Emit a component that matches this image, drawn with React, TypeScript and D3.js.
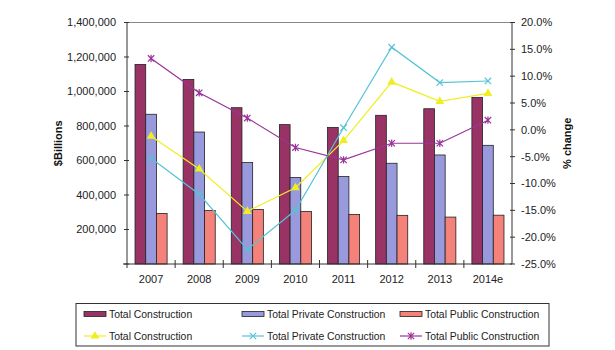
import * as d3 from "d3";

const years = ["2007", "2008", "2009", "2010", "2011", "2012", "2013", "2014e"];

// bar values ($Billions)
const totalValues = [1157000, 1070000, 906000, 808000, 792000, 862000, 900000, 966000];
const privateValues = [868000, 765000, 588000, 501000, 507000, 584000, 632000, 688000];
const publicValues = [293000, 310000, 316000, 305000, 287000, 282000, 272000, 283000];

// % change lines
const totalPct = [-1.2, -7.3, -15.2, -10.8, -2.0, 8.9, 5.3, 6.8];
const privatePct = [-5.3, -12.0, -22.3, -15.0, 0.4, 15.4, 8.8, 9.1];
const publicPct = [13.3, 6.9, 2.2, -3.3, -5.6, -2.5, -2.5, 1.8];

const leftTicks = [0, 200000, 400000, 600000, 800000, 1000000, 1200000, 1400000];
const rightTicks = [20, 15, 10, 5, 0, -5, -10, -15, -20, -25];

const W = 615;
const H = 350;
const left = 127;
const right = 512;
const top = 22.5;
const bottom = 264;
const font = "'Liberation Sans', Arial, sans-serif";

const barSeries = [
  { name: "Total Construction", values: totalValues, color: "#993366" },
  { name: "Total Private Construction", values: privateValues, color: "#9999dd" },
  { name: "Total Public Construction", values: publicValues, color: "#f4827a" },
];

const lineSeries = [
  { name: "Total Construction", values: totalPct, color: "#f0ee20", marker: "tri" },
  { name: "Total Private Construction", values: privatePct, color: "#55c3d6", marker: "x" },
  { name: "Total Public Construction", values: publicPct, color: "#993399", marker: "star" },
];

function Marker({ type, x, y, color }: { type: string; x: number; y: number; color: string }) {
  if (type === "tri") {
    const sym = d3.symbol(d3.symbolTriangle, 34)();
    return <path d={sym || ""} transform={`translate(${x},${y})`} fill={color} />;
  }
  const s = 3.2;
  const cross = `M${x - s},${y - s}L${x + s},${y + s}M${x - s},${y + s}L${x + s},${y - s}`;
  if (type === "x") return <path d={cross} stroke={color} strokeWidth={1.2} fill="none" />;
  return (
    <path d={cross + `M${x},${y - s - 0.5}L${x},${y + s + 0.5}`} stroke={color} strokeWidth={1.2} fill="none" />
  );
}

export default function App() {
  const x = d3.scaleBand<string>().domain(years).range([left, right]);
  const bw = x.bandwidth();
  const barW = bw / 4.5;
  const yL = d3.scaleLinear().domain([0, 1400000]).range([bottom, top]);
  const yR = d3.scaleLinear().domain([-25, 20]).range([bottom, top]);
  const fmt = d3.format(",");

  const lineGen = (vals: number[]) =>
    d3.line<number>()
      .x((_, i) => (x(years[i]) as number) + bw / 2)
      .y((d) => yR(d))(vals) || "";

  const legCols = [84, 242, 400];

  return (
    <svg width={W} height={H} style={{ position: "absolute", left: 0, top: 0, background: "#fff" }} fontFamily={font}>
      {/* plot frame top */}
      <line x1={left} x2={right} y1={top} y2={top} stroke="#888" strokeWidth={1} />

      {/* bars */}
      {barSeries.map((s, si) =>
        s.values.map((v, i) => (
          <rect
            key={s.name + i}
            x={(x(years[i]) as number) + barW * 0.75 + si * barW}
            y={yL(v)}
            width={barW}
            height={bottom - yL(v)}
            fill={s.color}
            stroke="#222"
            strokeWidth={0.8}
          />
        ))
      )}

      {/* lines */}
      {lineSeries.map((s) => (
        <g key={s.name}>
          <path d={lineGen(s.values)} fill="none" stroke={s.color} strokeWidth={1.2} />
          {s.values.map((v, i) => (
            <Marker key={i} type={s.marker} x={(x(years[i]) as number) + bw / 2} y={yR(v)} color={s.color} />
          ))}
        </g>
      ))}

      {/* left axis */}
      <line x1={left} x2={left} y1={top} y2={bottom + 4} stroke="#333" />
      {leftTicks.map((t) => (
        <g key={t}>
          <line x1={left - 3} x2={left + 2} y1={yL(t)} y2={yL(t)} stroke="#333" />
          {t > 0 && (
            <text x={116} y={yL(t)} dy="0.35em" textAnchor="end" fontSize={11} fill="#222">
              {fmt(t)}
            </text>
          )}
        </g>
      ))}
      <text transform={`translate(62,${(top + bottom) / 2}) rotate(-90)`} textAnchor="middle" fontSize={11} fontWeight="bold" fill="#111">
        $Billions
      </text>

      {/* right axis */}
      <line x1={right} x2={right} y1={top} y2={bottom} stroke="#333" />
      {rightTicks.map((t) => (
        <g key={t}>
          <line x1={right - 2} x2={right + 3} y1={yR(t)} y2={yR(t)} stroke="#333" />
          <text x={521} y={yR(t)} dy="0.35em" textAnchor="start" fontSize={11} fill="#222">
            {t.toFixed(1) + "%"}
          </text>
        </g>
      ))}
      <text transform={`translate(571,${(top + bottom) / 2}) rotate(-90)`} textAnchor="middle" fontSize={11} fontWeight="bold" fill="#111">
        % change
      </text>

      {/* x axis */}
      <line x1={left - 4} x2={right} y1={bottom} y2={bottom} stroke="#333" />
      {years.map((yr, i) => (
        <g key={yr}>
          {i > 0 && <line x1={x(yr)} x2={x(yr)} y1={bottom - 4} y2={bottom + 4} stroke="#333" />}
          <text x={(x(yr) as number) + bw / 2} y={283} textAnchor="middle" fontSize={11} fill="#222">
            {yr}
          </text>
        </g>
      ))}

      {/* legend */}
      <rect x={76} y={303.5} width={473} height={42.5} fill="#fff" stroke="#333" strokeWidth={1} />
      {barSeries.map((s, i) => (
        <g key={"lb" + i}>
          <rect x={legCols[i]} y={311.5} width={22} height={5} fill={s.color} stroke="#222" strokeWidth={0.8} />
          <text x={legCols[i] + 25} y={314} dy="0.35em" fontSize={10.4} fill="#222">
            {s.name}
          </text>
        </g>
      ))}
      {lineSeries.map((s, i) => (
        <g key={"ll" + i}>
          <line x1={legCols[i]} x2={legCols[i] + 22} y1={336} y2={336} stroke={s.color} strokeWidth={1.2} />
          <Marker type={s.marker} x={legCols[i] + 11} y={336} color={s.color} />
          <text x={legCols[i] + 25} y={336} dy="0.35em" fontSize={10.4} fill="#222">
            {s.name}
          </text>
        </g>
      ))}
    </svg>
  );
}
